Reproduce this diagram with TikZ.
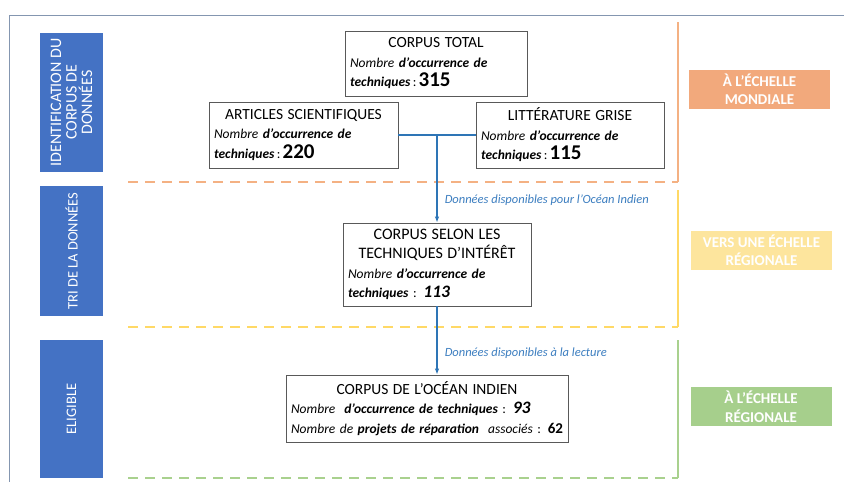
\documentclass[tikz,border=0pt]{standalone}
\usepackage{fontspec}
\setmainfont{Carlito}
\usetikzlibrary{arrows.meta}
\definecolor{bannerblue}{HTML}{4472C4}
\definecolor{linkblue}{HTML}{2E75B6}
\definecolor{labblue}{HTML}{3C7EC0}
\definecolor{orangeline}{HTML}{F4B183}
\definecolor{orangebox}{HTML}{F2A97C}
\definecolor{yellowline}{HTML}{FFD966}
\definecolor{yellowbox}{HTML}{FDE59D}
\definecolor{greenline}{HTML}{A9D18E}
\definecolor{greenbox}{HTML}{A6CF8C}
\definecolor{framegray}{HTML}{8496B0}
\newcommand\bignum[1]{{\fontsize{21}{19.5}\selectfont\bfseries #1}}
\newcommand\midnum[1]{{\fontsize{17.5}{19.5}\selectfont\bfseries #1}}
\newcommand\boxtitle[1]{{\centering\fontsize{15.5}{19.5}\selectfont #1\par}}
\tikzset{
  databox/.style={draw=black!65, line width=0.8pt, fill=white, inner xsep=5pt, inner ysep=0pt,
    font=\fontsize{13.5}{19.5}\selectfont, align=left},
  banner/.style={fill=bannerblue, text=white, rotate=90, minimum height=63pt, inner sep=0pt,
    align=center},
  scalebox/.style={minimum width=141pt, minimum height=39pt, inner sep=0pt, text=white,
    font=\bfseries\fontsize{15}{18.5}\selectfont, align=center},
  link/.style={linkblue, line width=1.5pt},
  linklabel/.style={text=labblue, font=\itshape\fontsize{12.5}{14}\selectfont, inner sep=0pt, anchor=west, xshift=7pt},
  zonedash/.style={line width=1.6pt, dash pattern=on 10pt off 7pt},
  zoneside/.style={line width=1.2pt}
}
\begin{document}
\begin{tikzpicture}[x=1pt,y=-1pt]
\useasboundingbox (0,0) rectangle (844,482);
\fill[white] (0,0) rectangle (844,482);
% frame
\draw[framegray, line width=1pt] (9,482) -- (9,15) -- (844,15);
% zone lines
\draw[orangeline, zonedash] (128,182) -- (678,182);
\draw[orangeline, zoneside] (678,22) -- (678,182);
\draw[yellowline, zonedash] (128,327) -- (678,327);
\draw[yellowline, zoneside] (678,190) -- (678,327);
\draw[greenline, zonedash] (128,478) -- (678,478);
\draw[greenline, zoneside] (678,340) -- (678,478);
% banners
\node[banner, minimum width=139pt, font=\fontsize{16}{15.5}\selectfont] (b1) at (71.5,102.5) {IDENTIFICATION DU\\CORPUS DE\\DONNÉES};
\node[banner, minimum width=130pt, font=\fontsize{14.5}{15.5}\selectfont] (b2) at (71.5,251) {TRI DE LA DONNÉES};
\node[banner, minimum width=138pt, font=\fontsize{14.5}{15.5}\selectfont] (b3) at (71.5,409) {ELIGIBLE};
% scale labels
\node[scalebox, fill=orangebox] (s1) at (759.5,89.5) {À L’ÉCHELLE\\MONDIALE};
\node[scalebox, fill=yellowbox] (s2) at (761.5,250) {VERS UNE ÉCHELLE\\RÉGIONALE};
\node[scalebox, fill=greenbox] (s3) at (761,406.5) {À L’ÉCHELLE\\RÉGIONALE};
% data boxes
\node[databox, minimum width=182pt, minimum height=65pt, text width=172pt] (tot) at (436,63.5)
  {\boxtitle{CORPUS TOTAL}\textit{Nombre \textbf{d’occurrence de}}\par\textit{\textbf{techniques}}\,:\,\bignum{315}};
\node[databox, minimum width=189pt, minimum height=66pt, text width=179pt] (art) at (303.5,135)
  {\boxtitle{ARTICLES SCIENTIFIQUES}\textit{Nombre \textbf{d’occurrence de}}\par\textit{\textbf{techniques}}\,:\,\bignum{220}};
\node[databox, minimum width=188pt, minimum height=66pt, text width=178pt] (lit) at (570,135)
  {\boxtitle{LITTÉRATURE GRISE}\textit{Nombre \textbf{d’occurrence de}}\par\textit{\textbf{techniques}}\,:\,\bignum{115}};
\node[databox, minimum width=188pt, minimum height=83pt, text width=178pt] (sel) at (437,264.5)
  {{\centering\fontsize{16}{19.5}\selectfont CORPUS SELON LES\\TECHNIQUES D’INTÉRÊT\par}\textit{Nombre \textbf{d’occurrence de}}\par\textit{\textbf{techniques}} : \midnum{\textit{113}}};
\node[databox, minimum width=282pt, minimum height=67pt, text width=272pt] (oi) at (427,408.5)
  {\boxtitle{CORPUS DE L’OCÉAN INDIEN}\textit{Nombre \ \textbf{d’occurrence de techniques}} : \midnum{\textit{93}}\par\textit{Nombre de \textbf{projets de réparation} \ associés} : \textbf{\fontsize{15}{19}\selectfont 62}};
% connectors
\draw[link] (art.east) -- (lit.west);
\coordinate (j) at (sel.north |- art.east);
\draw[link, -{Latex[length=6pt,width=4.5pt]}] (j) -- (sel.north)
  node[linklabel, pos=0.74] {Données disponibles pour l’Océan Indien};
\coordinate (k) at (sel.south |- oi.north);
\draw[link, -{Latex[length=6pt,width=4.5pt]}] (sel.south) -- (k)
  node[linklabel, pos=0.68] {Données disponibles à la lecture};
\end{tikzpicture}
\end{document}
